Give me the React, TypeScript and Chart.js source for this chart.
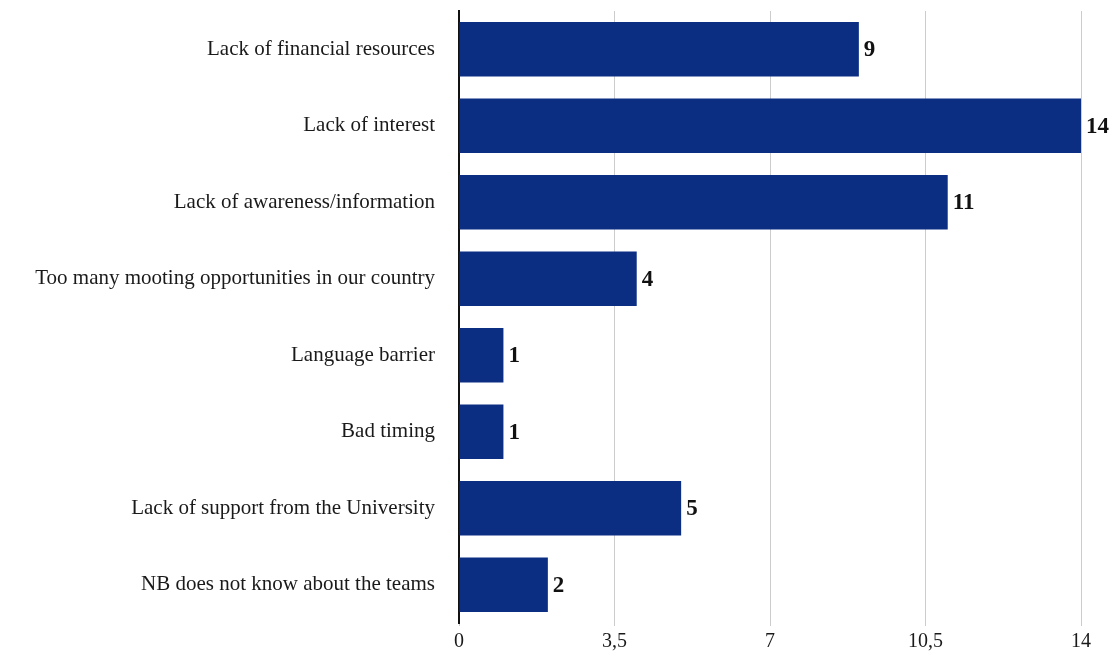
import React, { useEffect, useRef } from "react";
import { Chart, registerables } from "chart.js";

Chart.register(...registerables);

const categories = [
  "Lack of financial resources",
  "Lack of interest",
  "Lack of awareness/information",
  "Too many mooting opportunities in our country",
  "Language barrier",
  "Bad timing",
  "Lack of support from the University",
  "NB does not know about the teams",
];
const values = [9, 14, 11, 4, 1, 1, 5, 2];
const xMin = 0;
const xMax = 14;
const xStep = 3.5;

const FONT = "'Liberation Serif', 'Times New Roman', serif";

const valueLabels = {
  id: "valueLabels",
  afterDatasetsDraw(chart: any) {
    const ctx = chart.ctx;
    const meta = chart.getDatasetMeta(0);
    ctx.save();
    ctx.font = `bold 23px ${FONT}`;
    ctx.fillStyle = "#111111";
    ctx.textAlign = "left";
    ctx.textBaseline = "middle";
    meta.data.forEach((bar: any, i: number) => {
      ctx.fillText(String(values[i]), bar.x + 5, bar.y + 1);
    });
    ctx.restore();
  },
};

export default function App() {
  const ref = useRef<HTMLCanvasElement | null>(null);
  useEffect(() => {
    if (!ref.current) return;
    const chart = new Chart(ref.current, {
      type: "bar",
      data: {
        labels: categories,
        datasets: [
          {
            data: values,
            backgroundColor: "#0b2e83",
            barPercentage: 0.9,
            categoryPercentage: 0.795,
          },
        ],
      },
      options: {
        indexAxis: "y",
        animation: false,
        responsive: true,
        maintainAspectRatio: false,
        layout: { padding: { left: 0, right: 34, top: 11, bottom: 0 } },
        plugins: {
          legend: { display: false },
          tooltip: { enabled: false },
        },
        scales: {
          y: {
            type: "category",
            grid: { display: false, drawTicks: false },
            border: { display: true, color: "#111111", width: 2 },
            ticks: {
              font: { family: FONT, size: 21 },
              color: "#1a1a1a",
              padding: 24,
            },
            afterFit(scale: any) {
              scale.width = 459;
              scale.paddingTop = 0;
              scale.paddingBottom = 0;
            },
          },
          x: {
            min: xMin,
            max: xMax,
            grid: { color: "#cccccc", lineWidth: 1, tickLength: 3 },
            border: { display: false },
            ticks: {
              stepSize: xStep,
              font: { family: FONT, size: 20 },
              color: "#1a1a1a",
              padding: 4,
              callback: (v: any) => String(v).replace(".", ","),
            },
            afterFit(scale: any) {
              scale.height = 31;
            },
          },
        },
      },
      plugins: [valueLabels],
    });
    return () => chart.destroy();
  }, []);
  return (
    <div style={{ position: "absolute", left: 0, top: 0, width: 1115, height: 654, background: "#fff" }}>
      <canvas ref={ref} />
    </div>
  );
}
